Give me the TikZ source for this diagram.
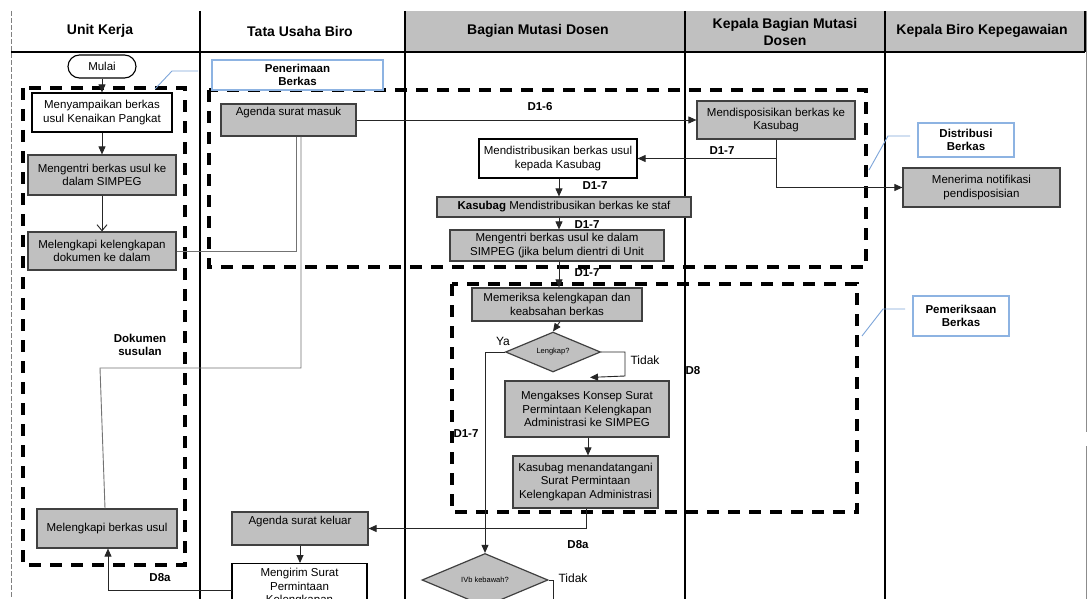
\documentclass[tikz,border=0pt]{standalone}
\usepackage{fontspec}
\setmainfont{Liberation Sans}
\usetikzlibrary{arrows.meta,shapes.geometric}
\definecolor{boxgray}{RGB}{192,192,192}
\definecolor{callblue}{RGB}{141,179,226}
\definecolor{lineblue}{RGB}{125,165,218}
\definecolor{edgegray}{RGB}{64,64,64}
\newcommand{\bxfont}{\fontsize{11.5}{13.5}\selectfont}
\newcommand{\bxbold}{\fontsize{11.5}{13}\selectfont\bfseries}
\newcommand{\hdfont}{\fontsize{14}{16.5}\selectfont\bfseries}
\newcommand{\smfont}{\fontsize{7.5}{9}\selectfont}
\begin{document}
\begin{tikzpicture}[x=1pt,y=-1pt,
  lane/.style={line width=1.8pt,black},
  hd/.style={font=\hdfont,align=center,inner sep=0pt},
  gbox/.style={draw=edgegray,line width=1.2pt,fill=boxgray,inner sep=3pt,align=center,font=\bxfont},
  wbox/.style={gbox,fill=white,draw=black},
  callout/.style={draw=callblue,line width=1.1pt,fill=white,align=center,font=\bxbold,inner sep=0pt},
  callline/.style={draw=lineblue,line width=0.9pt},
  group/.style={draw=black,line width=3.4pt,dash pattern=on 12pt off 9pt},
  conn/.style={draw=black!85,line width=0.9pt},
  conn2/.style={draw=black!55,line width=0.9pt},
  arr/.style={conn,-{Triangle[length=8pt,width=7pt]}},
  lbl/.style={font=\bxbold,inner sep=0pt},
  txt/.style={font=\fontsize{12}{14}\selectfont,inner sep=0pt},
  dia/.style={diamond,draw=edgegray,line width=1.2pt,fill=boxgray,inner sep=0pt,font=\smfont}
]
\useasboundingbox (0,0) rectangle (1087,599);
\clip (0,0) rectangle (1087,599);
\fill[white] (0,0) rectangle (1087,599);

% swimlane headers
\fill[boxgray] (405,11) rectangle (1085,52);
\draw[dashed,black!50,line width=0.8pt,dash pattern=on 5pt off 2pt] (11,11) -- (11,599);
\draw[black!45,line width=0.8pt] (1086,11) -- (1086,432) (1086,446) -- (1086,599);
\draw[lane] (1085,11) -- (1085,52);
\draw[lane] (11,52) -- (1085,52);
\foreach \lx in {200,405,685,885} \draw[lane] (\lx,11) -- (\lx,599);
\node[hd] (h1) at (100,31) {Unit Kerja};
\node[hd] (h2) at (300,31) {Tata Usaha Biro};
\node[hd] (h3) at (538,31) {Bagian Mutasi Dosen};
\node[hd] (h4) at (785,32) {Kepala Bagian Mutasi\\Dosen};
\node[hd] (h5) at (982,31) {Kepala Biro Kepegawaian};

% grouping frames
\draw[group] (23,88) rectangle (185,565);
\draw[group] (209,90) rectangle (866,267);
\draw[group] (452,284) rectangle (857,512);

% callouts
\node[callout,minimum width=171,minimum height=30] (cpb) at (297.5,75) {Penerimaan\\Berkas};
\coordinate (cpb1) at (198,71);
\coordinate (cpb2) at (172,71);
\coordinate (cpb3) at (155,89);
\draw[callline] (cpb1) -- (cpb2) -- (cpb3);
\node[callout,minimum width=96,minimum height=34] (cdb) at (966,140) {Distribusi\\Berkas};
\coordinate (cdb1) at (910,136);
\coordinate (cdb2) at (888,136);
\coordinate (cdb3) at (869,170);
\draw[callline] (cdb1) -- (cdb2) -- (cdb3);
\node[callout,minimum width=96,minimum height=40] (cpm) at (961,316) {Pemeriksaan\\Berkas};
\coordinate (cpm1) at (905,309);
\coordinate (cpm2) at (883,309);
\coordinate (cpm3) at (862,336);
\draw[callline] (cpm1) -- (cpm2) -- (cpm3);

% Unit Kerja
\node[draw=black,line width=1.1pt,rounded corners=11.5pt,minimum width=68,minimum height=23,font=\bxfont,inner sep=0pt] (mulai) at (102,66.5) {Mulai};
\node[wbox,minimum width=140,minimum height=39] (ms) at (102,112.5) {Menyampaikan berkas\\usul Kenaikan Pangkat};
\node[gbox,minimum width=148,minimum height=40] (me1) at (102,175) {Mengentri berkas usul ke\\dalam SIMPEG};
\node[gbox,minimum width=148,minimum height=38] (ml1) at (102,251) {Melengkapi kelengkapan\\dokumen ke dalam};
\node[gbox,minimum width=140,minimum height=39] (mbu) at (107,528.5) {Melengkapi berkas usul};

% Tata Usaha Biro
\node[gbox,minimum width=135,text height=9pt,text depth=17pt] (am) at (288.5,120) {Agenda surat masuk};
\node[gbox,minimum width=136,text height=9pt,text depth=18pt] (ak) at (300,528.5) {Agenda surat keluar};
\node[wbox,minimum width=135,anchor=north,inner ysep=5pt] (mg) at (299.5,563) {Mengirim Surat\\Permintaan\\Kelengkapan};

% Bagian Mutasi Dosen
\node[wbox,minimum width=158,minimum height=39] (mdk) at (558,158.5) {Mendistribusikan berkas usul\\kepada Kasubag};
\node[gbox,minimum width=254,minimum height=20,inner ysep=0pt] (ks) at (564,207) {\textbf{Kasubag} Mendistribusikan berkas ke staf};
\node[gbox,minimum width=214,minimum height=31,inner ysep=1pt] (me2) at (557,245.5) {Mengentri berkas usul ke dalam\\SIMPEG (jika belum dientri di Unit};
\node[gbox,minimum width=170,minimum height=33,inner ysep=1pt] (mm) at (557,304.5) {Memeriksa kelengkapan dan\\keabsahan berkas};
\node[dia,minimum width=95,minimum height=32] (lk) at (553,352) {Lengkap?};
\node[gbox,minimum width=164,minimum height=56] (mk) at (587,409) {Mengakses Konsep Surat\\Permintaan Kelengkapan\\Administrasi ke SIMPEG};
\node[gbox,minimum width=145,minimum height=52,inner sep=1pt] (kt) at (585.5,482) {Kasubag menandatangani\\Surat Permintaan\\Kelengkapan Administrasi};
\node[dia,minimum width=126,minimum height=44] (iv) at (485,580) {IVb kebawah?};

% Kepala Bagian Mutasi Dosen
\node[gbox,minimum width=158,minimum height=38] (md) at (776,120) {Mendisposisikan berkas ke\\Kasubag};

% Kepala Biro Kepegawaian
\node[gbox,minimum width=157,minimum height=39] (mn) at (981.5,187.5) {Menerima notifikasi\\pendisposisian};

% flow in Unit Kerja
\draw[arr] (mulai) -- (ms);
\draw[arr] (ms) -- (me1);
\draw[conn,-{Straight Barb[length=6pt,width=10pt]}] (me1) -- (ml1);

% document return paths
\draw[conn2] (ml1.east) -| ([xshift=7.5pt]am.south);
\coordinate (ds1) at (301,368);
\coordinate (ds2) at (100,368);
\draw[conn2] ([xshift=12.5pt]am.south) -- (ds1) -- (ds2) -- ([xshift=-2pt]mbu.north);
\node[lbl,align=center] (dsl) at (140,345) {Dokumen\\susulan};

% disposition and distribution
\draw[arr] (am.east) -- (md.west);
\node[lbl] (l16) at (540,107) {D1-6};
\draw[arr] (md.south) |- (mdk.east);
\node[lbl] (l17a) at (722,151) {D1-7};
\draw[arr] (md.south) |- (mn.west);
\draw[arr] ([xshift=1pt]mdk.south) -- ([xshift=1pt]mdk.south |- ks.north);
\node[lbl] (l17b) at (595,186) {D1-7};
\draw[arr] ([xshift=1pt]mdk.south |- ks.south) -- ([xshift=1pt]mdk.south |- me2.north);
\node[lbl] (l17c) at (587,225) {D1-7};
\draw[arr] ([xshift=2pt]me2.south) -- ([xshift=2pt]mm.north);
\node[lbl] (l17d) at (587,273) {D1-7};

% examination
\draw[arr] ([xshift=3pt]mm.south) -- (lk.north);
\draw[arr] (lk.west) -| (iv.north);
\node[txt] (ya) at (503,341) {Ya};
\node[lbl] (l17e) at (466,434) {D1-7};
\coordinate (tk) at (625,376);
\draw[arr] (lk.east) -| (tk) -- ([xshift=3pt,yshift=3pt]mk.north);
\node[txt] (tdk1) at (645,360) {Tidak};
\node[lbl] (l8) at (693,371) {D8};
\draw[arr] ([xshift=1pt]mk.south) -- ([xshift=1pt]mk.south |- kt.north);
\draw[arr] ([xshift=1pt]kt.south) |- (ak.east);
\node[lbl] (l8a1) at (578,545) {D8a};
\draw[arr] (ak.south) -- (ak.south |- mg.north);
\coordinate (mgl) at (232,590);
\draw[arr] (mgl) -| ([xshift=1pt]mbu.south);
\node[lbl] (l8a2) at (160,578) {D8a};
\coordinate (ivt) at (553,620);
\draw[conn] (iv.east) -| (ivt);
\node[txt] (tdk2) at (573,578) {Tidak};
\end{tikzpicture}
\end{document}
